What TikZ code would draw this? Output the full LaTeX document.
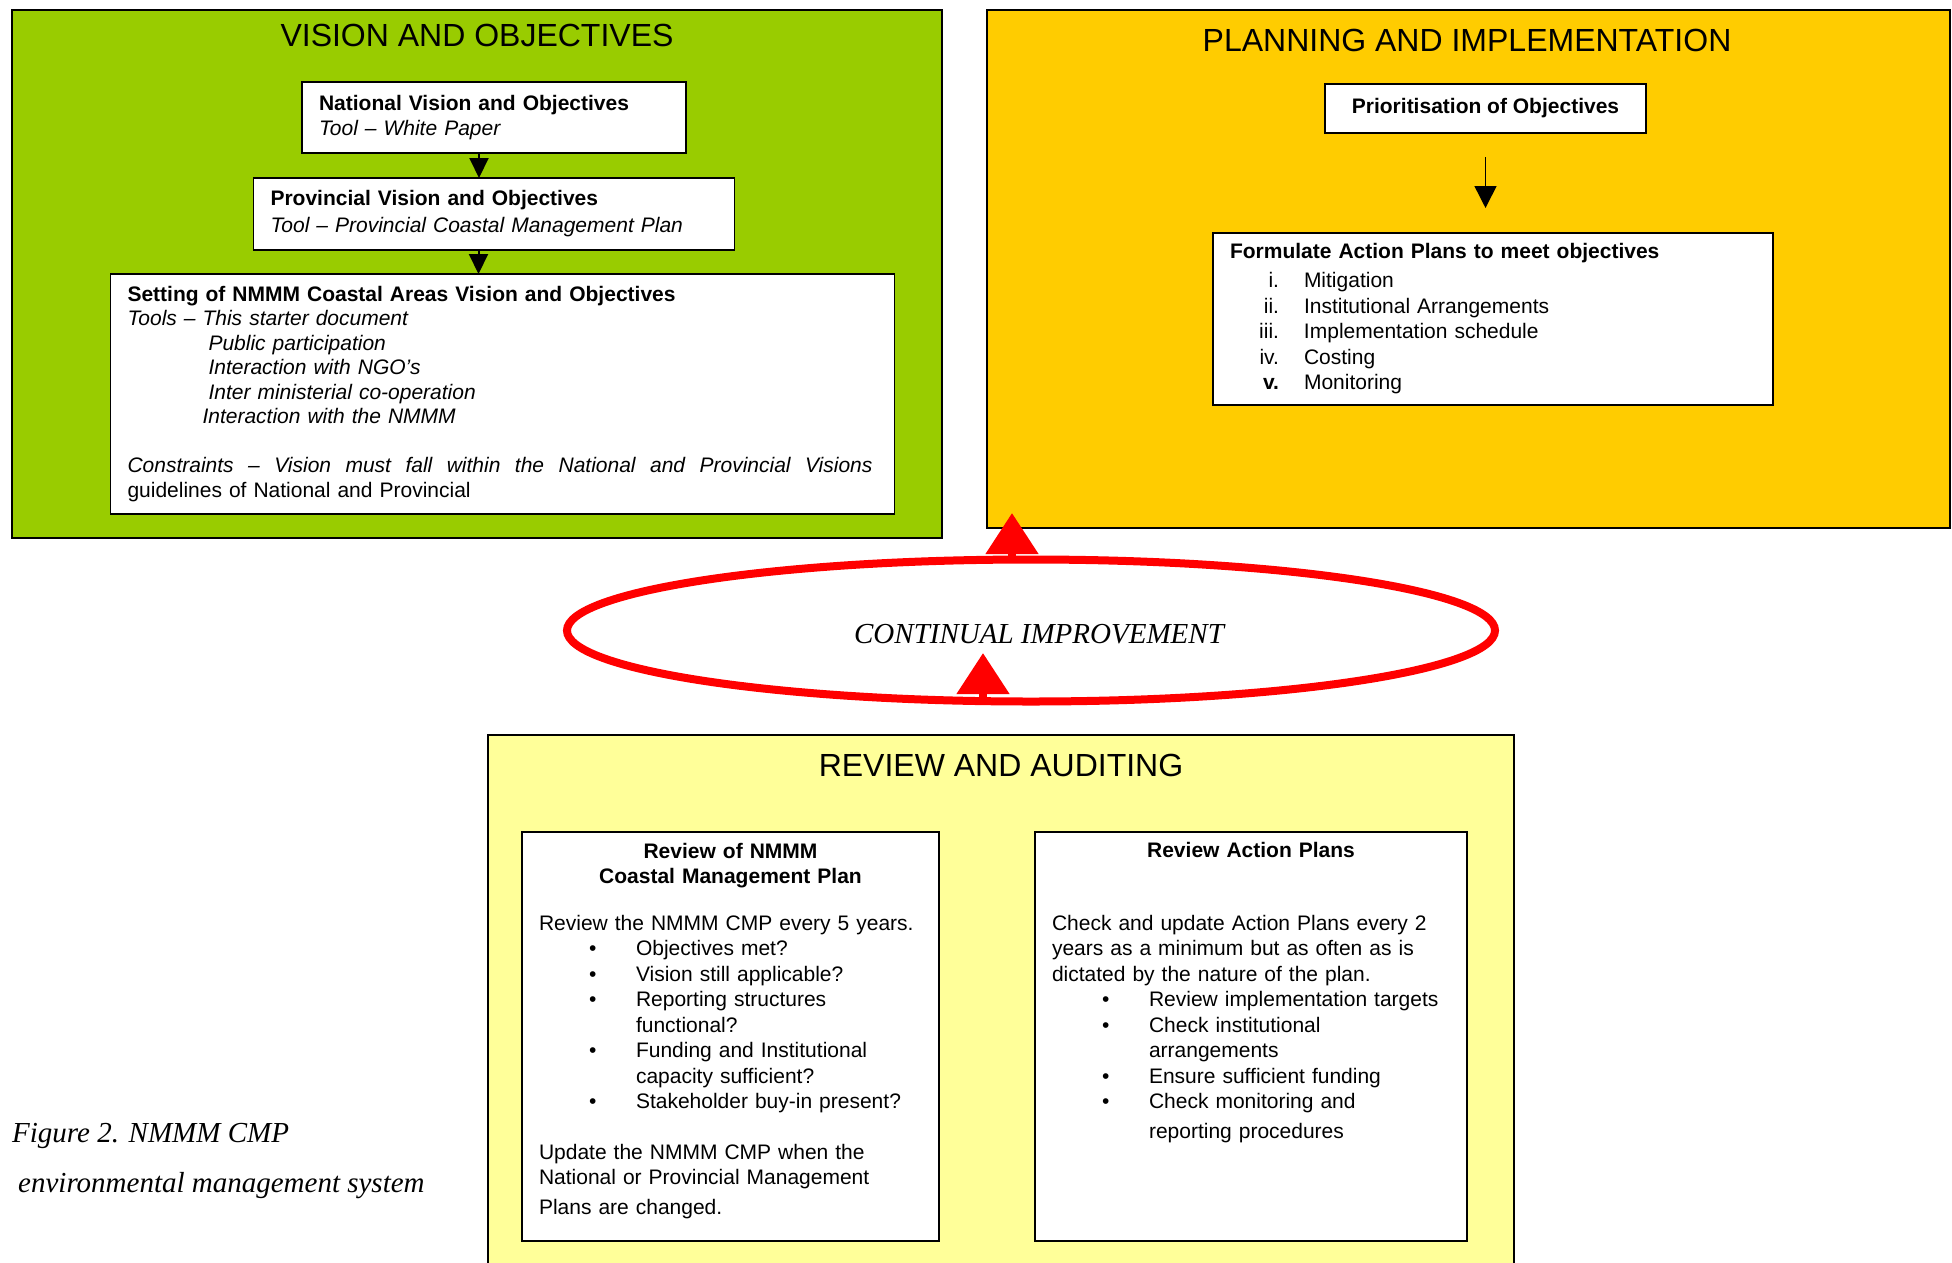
\documentclass[tikz,border=0pt]{standalone}
\usepackage{fontspec}
\setmainfont{Liberation Sans}
\newfontfamily\captionserif{Liberation Serif}
\usepackage{xcolor}
\usepackage{tikz}
\usetikzlibrary{shapes.geometric, arrows.meta, positioning, calc}

\definecolor{visiongreen}{RGB}{153,204,0}
\definecolor{planorange}{RGB}{255,204,0}
\definecolor{reviewyellow}{RGB}{255,255,153}

\newcommand{\bodysize}{\fontsize{21}{25.5}\selectfont}
\newcommand{\titlesize}{\fontsize{32}{38}\selectfont}
\newcommand{\planrow}[2]{\makebox[49pt][r]{#1}\hspace{25pt}#2}
\newcommand{\bulletrow}[1]{\hspace*{50pt}\makebox[47pt][l]{\textbullet}#1}
\newcommand{\bulletcont}[1]{\hspace*{97pt}#1}

\begin{document}
\begin{tikzpicture}[x=1pt, y=-1pt, font=\bodysize]
    % Styles
    \tikzstyle{panel} = [rectangle, draw, line width=2.5pt, anchor=north west, inner sep=0pt, outer sep=0pt]
    \tikzstyle{paneltitle} = [font=\titlesize, inner sep=0pt]
    \tikzstyle{block} = [rectangle, draw, fill=white, line width=1.8pt, align=left, inner xsep=17pt, inner ysep=0pt, outer sep=0pt]
    \tikzstyle{line} = [draw, line width=2pt, -{Triangle[length=20pt, width=19pt]}]
    \tikzstyle{thinline} = [draw, line width=1.5pt, -{Triangle[length=22pt, width=22pt]}]
    \tikzstyle{redtip} = [draw=red, line width=8pt, -{Triangle[length=41pt, width=51pt]}]
    \tikzstyle{serifnote} = [font=\captionserif\itshape\fontsize{29}{34}\selectfont, inner sep=0pt]

    \path[use as bounding box, clip] (0,0) rectangle (1952,1262);

    % Panels
    \node [panel, fill=visiongreen, minimum width=930pt, minimum height=528pt] (vision) at (12,10) {};
    \node [panel, fill=planorange, minimum width=963pt, minimum height=518pt] (planning) at (987,10) {};
    \node [panel, fill=reviewyellow, minimum width=1026pt, minimum height=600pt] (review) at (488,735) {};

    \node [paneltitle] (visiontitle) at (477,35) {VISION AND OBJECTIVES};
    \node [paneltitle] (plantitle) at (1467,40) {PLANNING AND IMPLEMENTATION};
    \node [paneltitle] (reviewtitle) at (1001,765) {REVIEW AND AUDITING};

    % Vision and objectives
    \node [block, text width=350pt, minimum height=71pt, anchor=north west] (national) at (302,82)
        {\textbf{National Vision and Objectives}\\ \textit{Tool -- White Paper}};
    \node [block, text width=447pt, minimum height=72pt, below=25pt of national] (provincial)
        {\textbf{Provincial Vision and Objectives}\\[1.5pt] \textit{Tool -- Provincial Coastal Management Plan}};
    \node [block, text width=750pt, minimum height=240pt, below=24pt of provincial, xshift=8.5pt, font=\fontsize{21}{24.5}\selectfont] (setting)
        {\textbf{Setting of NMMM Coastal Areas Vision and Objectives}\\
         \textit{Tools -- This starter document}\\
         \hspace*{81pt}\textit{Public participation}\\
         \hspace*{81pt}\textit{Interaction with NGO's}\\
         \hspace*{81pt}\textit{Inter ministerial co-operation}\\
         \hspace*{75pt}\textit{Interaction with the NMMM}\\[24.5pt]
         \makebox[745pt][l]{\itshape Constraints\hfill--\hfill Vision\hfill must\hfill fall\hfill within\hfill the\hfill National\hfill and\hfill Provincial\hfill Visions}\\
         guidelines of National and Provincial};

    % Planning and implementation
    \node [block, align=center, minimum width=321pt, minimum height=49pt, anchor=north west] (prio) at (1325,84)
        {\textbf{Prioritisation of Objectives}};
    \node [block, text width=526pt, minimum height=172pt, anchor=north west] (formulate) at (1213,233)
        {\textbf{Formulate Action Plans to meet objectives}\\[3.5pt]
         \planrow{i.}{Mitigation}\\
         \planrow{ii.}{Institutional Arrangements}\\
         \planrow{iii.}{Implementation schedule}\\
         \planrow{iv.}{Costing}\\
         \planrow{\textbf{v.}}{Monitoring}};

    % Continual improvement
    \node [ellipse, draw=red, line width=8pt, minimum width=928pt, minimum height=142pt, outer sep=0pt] (improve) at (1031,630.5) {};
    \node [serifnote, xshift=8pt, yshift=-4pt] (improvetext) at (improve.center) {CONTINUAL IMPROVEMENT};
    \coordinate (uptip) at (1012,513);
    \coordinate (lowtip) at (983,653);

    % Review and auditing
    \node [block, text width=383pt, minimum height=409pt, anchor=north west] (reviewcmp) at (522,832)
        {\makebox[383pt]{\textbf{Review of NMMM}}\\
         \makebox[383pt]{\textbf{Coastal Management Plan}}\\[21pt]
         Review the NMMM CMP every 5 years.\\
         \bulletrow{Objectives met?}\\
         \bulletrow{Vision still applicable?}\\
         \bulletrow{Reporting structures}\\
         \bulletcont{functional?}\\
         \bulletrow{Funding and Institutional}\\
         \bulletcont{capacity sufficient?}\\
         \bulletrow{Stakeholder buy-in present?}\\[25pt]
         Update the NMMM CMP when the\\
         National or Provincial Management\\[4pt]
         Plans are changed.\rule[-16pt]{0pt}{16pt}};
    \node [block, text width=398pt, minimum height=409pt, right=96pt of reviewcmp] (reviewplans)
        {\makebox[398pt]{\textbf{Review Action Plans}}\\[47pt]
         Check and update Action Plans every 2\\
         years as a minimum but as often as is\\
         dictated by the nature of the plan.\\
         \bulletrow{Review implementation targets}\\
         \bulletrow{Check institutional}\\
         \bulletcont{arrangements}\\
         \bulletrow{Ensure sufficient funding}\\
         \bulletrow{Check monitoring and}\\[4pt]
         \bulletcont{reporting procedures}\rule[-92pt]{0pt}{92pt}};

    % Caption
    \node [serifnote, anchor=base west] (figlabel) at (12,1142) {Figure 2. NMMM CMP};
    \node [serifnote, anchor=base west] (figsystem) at (18,1192) {environmental management system};

    % Paths
    \path [line] ([xshift=-15pt]national.south) -- ([xshift=-15pt]provincial.north);
    \path [line] ([xshift=-15.5pt]provincial.south) -- ([xshift=-24pt]setting.north);
    \path [thinline, shorten <=24pt, shorten >=25pt] (prio.south) -- (prio.south |- formulate.north);
    \path [redtip] (uptip |- improve.north) -- (uptip);
    \path [redtip] (lowtip |- improve.south) -- (lowtip);
\end{tikzpicture}
\end{document}
